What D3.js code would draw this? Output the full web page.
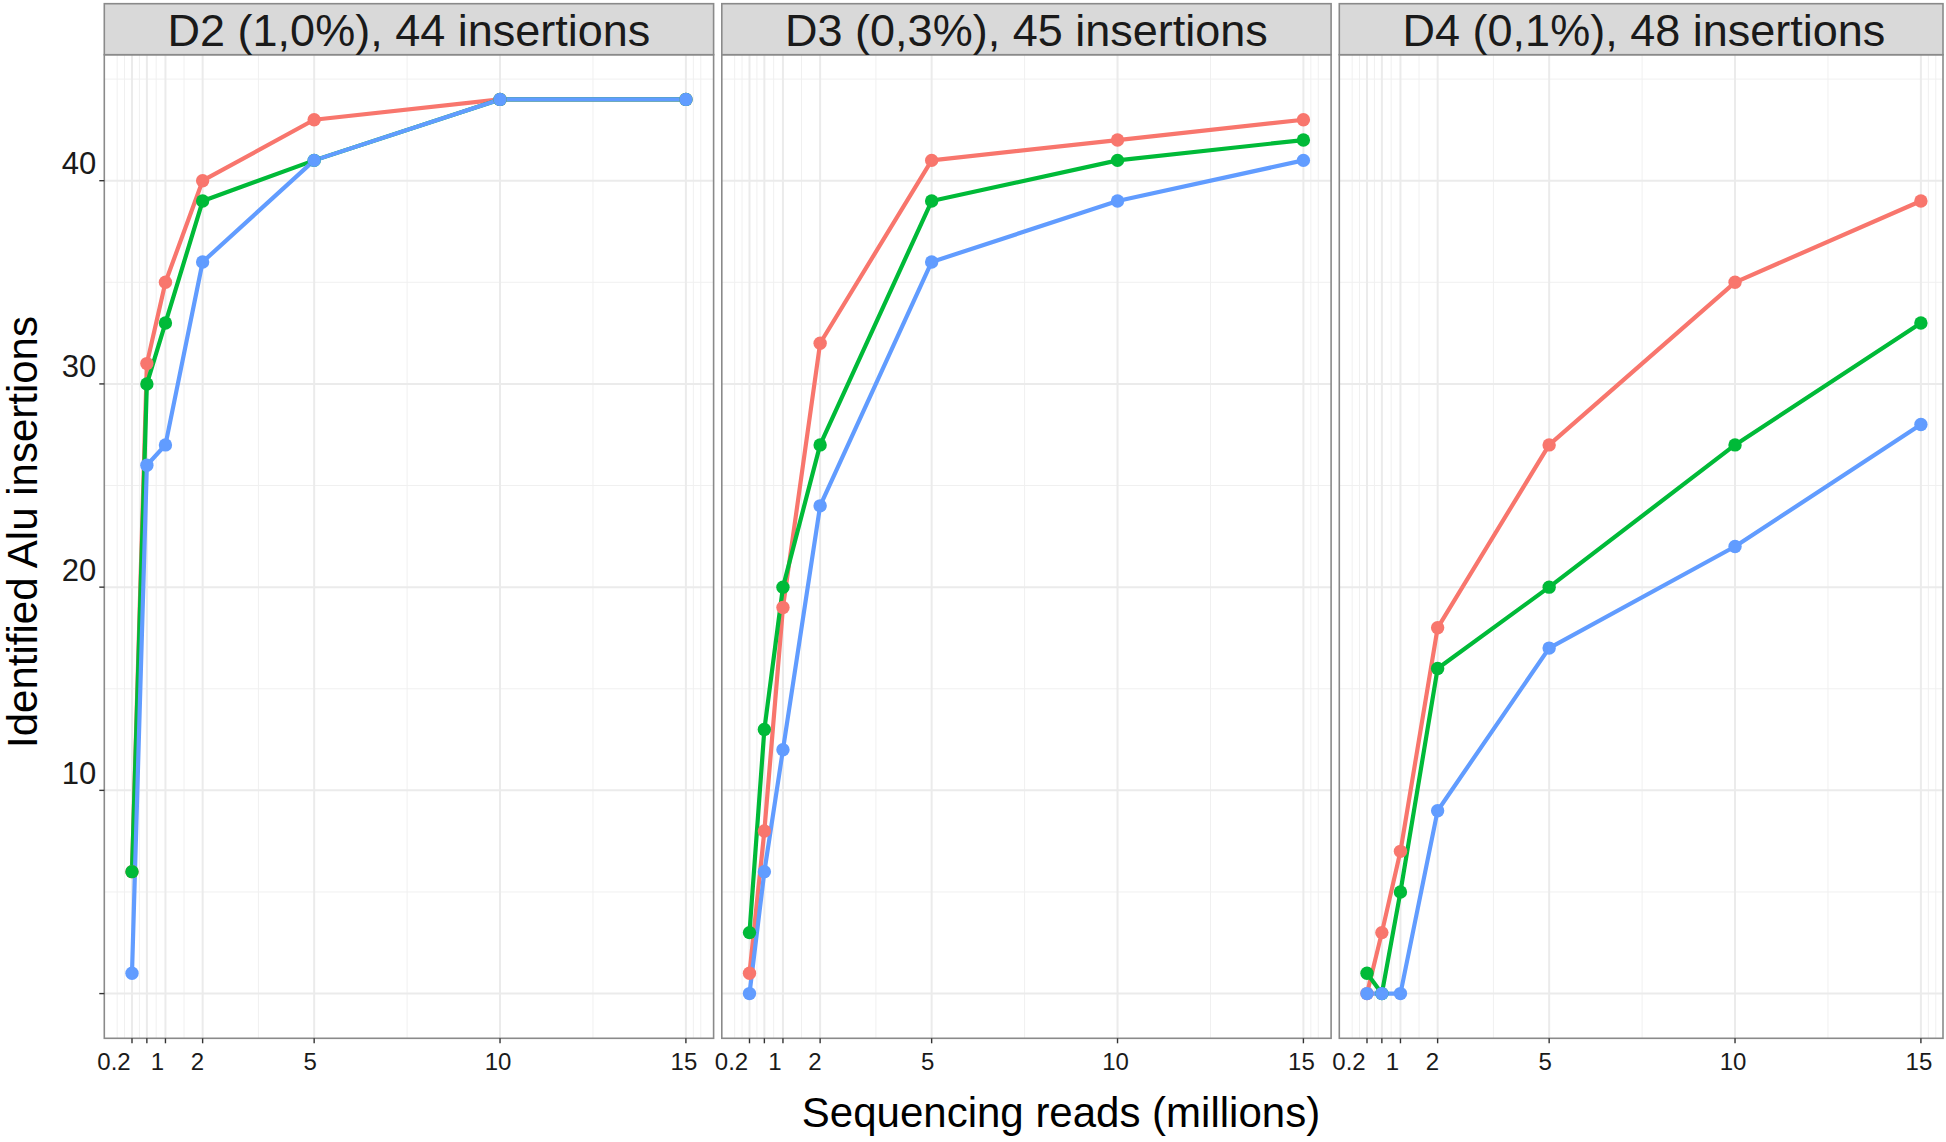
<!DOCTYPE html>
<html>
<head>
<meta charset="utf-8">
<script src="https://cdn.jsdelivr.net/npm/d3@7"></script>
<style>
  html, body { margin: 0; padding: 0; background: #ffffff; }
  svg { display: block; font-family: "Liberation Sans", Arial, sans-serif; }
</style>
</head>
<body>
<svg id="chart" width="1946" height="1142"></svg>
<script>
// ---------------- DATA ----------------
const panelTitles = ["D2 (1,0%), 44 insertions", "D3 (0,3%), 45 insertions", "D4 (0,1%), 48 insertions"];
const readsMillions = [0.1, 0.5, 1, 2, 5, 10, 15];
const seriesNames = ["red", "green", "blue"];
const seriesColors = ["#F8766D", "#00BA38", "#619CFF"];

// D2 (1,0%)
const d2Red   = [6, 31, 35, 40, 43, 44, 44];
const d2Green = [6, 30, 33, 39, 41, 44, 44];
const d2Blue  = [1, 26, 27, 36, 41, 44, 44];
// D3 (0,3%)
const d3Red   = [1, 8, 19, 32, 41, 42, 43];
const d3Green = [3, 13, 20, 27, 39, 41, 42];
const d3Blue  = [0, 6, 12, 24, 36, 39, 41];
// D4 (0,1%)
const d4Red   = [0, 3, 7, 18, 27, 35, 39];
const d4Green = [1, 0, 5, 16, 20, 27, 33];
const d4Blue  = [0, 0, 0, 9, 17, 22, 28];

const xTickValues = [0.1, 0.5, 1, 2, 5, 10, 15];
const xTickLabels = ["0.2", "", "1", "2", "5", "10", "15"];
const xMinorValues = [-0.3, -0.1, 0.3, 0.75, 1.5, 3.5, 7.5, 12.5, 15.2, 15.4];
const yTickValues = [0, 10, 20, 30, 40];
const yTickLabels = ["", "10", "20", "30", "40"];
const yMinorValues = [5, 15, 25, 35, 45];

const xTitle = "Sequencing reads (millions)";
const yTitle = "Identified Alu insertions";

const panelSeries = [
  [d2Red, d2Green, d2Blue],
  [d3Red, d3Green, d3Blue],
  [d4Red, d4Green, d4Blue]
];

// ---------------- LAYOUT ----------------
const svg = d3.select("#chart");
const firstLeft = 104.3, panelW = 609.3, gap = 8.2;
const plotTop = 54.7, plotBottom = 1038.3, stripTop = 3.7;
const maxRight = 1943;

// expanded domains (5% like ggplot)
const xExt = d3.extent(readsMillions);
const xPad = (xExt[1] - xExt[0]) * 0.05;
const allY = panelSeries.flat(2);
const yExt = [d3.min(allY), d3.max(allY)];
const yPad = (yExt[1] - yExt[0]) * 0.05;

const y = d3.scaleLinear().domain([yExt[0] - yPad, yExt[1] + yPad]).range([plotBottom, plotTop]);

// label nudges (layout only) for x tick labels
const xLabelNudge = {"0.2": -18, "1": -8, "2": -5.3, "5": -4, "10": -2, "15": -2};

panelSeries.forEach((series, p) => {
  const left = firstLeft + p * (panelW + gap);
  const right = left + panelW;
  const drawRight = Math.min(right, maxRight);
  const x = d3.scaleLinear().domain([xExt[0] - xPad, xExt[1] + xPad]).range([left, right]);
  const g = svg.append("g");

  g.append("rect").attr("x", left).attr("y", plotTop).attr("width", drawRight - left).attr("height", plotBottom - plotTop).attr("fill", "#ffffff");

  const clipId = "clip" + p;
  svg.append("clipPath").attr("id", clipId).append("rect")
    .attr("x", left).attr("y", plotTop).attr("width", drawRight - left).attr("height", plotBottom - plotTop);
  const inner = g.append("g").attr("clip-path", `url(#${clipId})`);

  // minor grid
  inner.selectAll(".ymin").data(yMinorValues).enter().append("line")
    .attr("x1", left).attr("x2", drawRight).attr("y1", d => y(d)).attr("y2", d => y(d))
    .attr("stroke", "#F0F0F0").attr("stroke-width", 1);
  inner.selectAll(".xmin").data(xMinorValues).enter().append("line")
    .attr("x1", d => x(d)).attr("x2", d => x(d)).attr("y1", plotTop).attr("y2", plotBottom)
    .attr("stroke", "#F0F0F0").attr("stroke-width", 1);
  // major grid
  inner.selectAll(".ymaj").data(yTickValues).enter().append("line")
    .attr("x1", left).attr("x2", drawRight).attr("y1", d => y(d)).attr("y2", d => y(d))
    .attr("stroke", "#EBEBEB").attr("stroke-width", 2);
  inner.selectAll(".xmaj").data(xTickValues).enter().append("line")
    .attr("x1", d => x(d)).attr("x2", d => x(d)).attr("y1", plotTop).attr("y2", plotBottom)
    .attr("stroke", "#EBEBEB").attr("stroke-width", 2);

  // lines
  const line = d3.line().x((d, i) => x(readsMillions[i])).y(d => y(d));
  series.forEach((vals, s) => {
    inner.append("path").datum(vals).attr("d", line)
      .attr("fill", "none").attr("stroke", seriesColors[s]).attr("stroke-width", 4.2)
      .attr("stroke-linejoin", "round");
  });
  // points
  series.forEach((vals, s) => {
    inner.selectAll(".pt" + s).data(vals).enter().append("circle")
      .attr("cx", (d, i) => x(readsMillions[i])).attr("cy", d => y(d))
      .attr("r", 6.7).attr("fill", seriesColors[s]);
  });

  // panel border
  g.append("rect").attr("x", left).attr("y", plotTop).attr("width", drawRight - left).attr("height", plotBottom - plotTop)
    .attr("fill", "none").attr("stroke", "#8A8A8A").attr("stroke-width", 1.6);

  // strip
  g.append("rect").attr("x", left).attr("y", stripTop).attr("width", drawRight - left).attr("height", plotTop - stripTop)
    .attr("fill", "#D9D9D9").attr("stroke", "#8A8A8A").attr("stroke-width", 1.6);
  g.append("text").attr("x", (left + right) / 2).attr("y", 46)
    .attr("text-anchor", "middle").attr("font-size", 45).attr("fill", "#1A1A1A")
    .text(panelTitles[p]);

  // x ticks
  g.selectAll(".xt").data(xTickValues).enter().append("line")
    .attr("x1", d => x(d)).attr("x2", d => x(d)).attr("y1", plotBottom).attr("y2", plotBottom + 5)
    .attr("stroke", "#333333").attr("stroke-width", 1.4);
  g.selectAll(".xl").data(xTickValues).enter().append("text")
    .attr("x", (d, i) => x(d) + (xLabelNudge[xTickLabels[i]] || 0))
    .attr("y", 1070)
    .attr("text-anchor", "middle").attr("font-size", 24).attr("fill", "#1A1A1A")
    .text((d, i) => xTickLabels[i]);

  // y axis (first panel only)
  if (p === 0) {
    g.selectAll(".yt").data(yTickValues).enter().append("line")
      .attr("x1", left - 5).attr("x2", left).attr("y1", d => y(d)).attr("y2", d => y(d))
      .attr("stroke", "#333333").attr("stroke-width", 1.4);
    g.selectAll(".yl").data(yTickValues).enter().append("text")
      .attr("x", left - 8).attr("y", d => y(d) - 6.5)
      .attr("text-anchor", "end").attr("font-size", 31).attr("fill", "#1A1A1A")
      .text((d, i) => yTickLabels[i]);
  }
});

// axis titles
svg.append("text").attr("x", 1061).attr("y", 1127).attr("text-anchor", "middle")
  .attr("font-size", 42).attr("fill", "#000000").text(xTitle);
svg.append("text").attr("transform", "translate(37,532) rotate(-90)").attr("text-anchor", "middle")
  .attr("font-size", 42).attr("fill", "#000000").text(yTitle);
</script>
</body>
</html>
